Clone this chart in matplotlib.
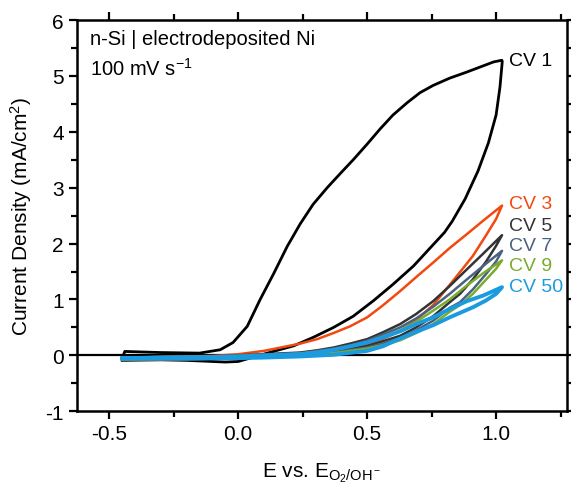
import matplotlib
matplotlib.use('Agg')
import matplotlib.pyplot as plt
from matplotlib.ticker import MultipleLocator

plt.rcParams['font.family'] = ['Liberation Sans', 'DejaVu Sans']
plt.rcParams['mathtext.fontset'] = 'custom'
plt.rcParams['mathtext.rm'] = 'Liberation Sans'
plt.rcParams['mathtext.it'] = 'Liberation Sans'

# CV 1 loop (forward then reverse)
cv1_e = [-0.45, -0.44, -0.3, -0.15, -0.07, -0.02, 0.035, 0.085, 0.136, 0.19, 0.24,
         0.29, 0.345, 0.395, 0.446, 0.50, 0.55, 0.60, 0.655, 0.705, 0.756, 0.82,
         0.887, 0.95, 0.99, 1.022,
         1.024, 1.015, 1.0, 0.97, 0.93, 0.88, 0.83, 0.80, 0.75, 0.68, 0.60, 0.525,
         0.446, 0.37, 0.29, 0.215, 0.136, 0.06, 0.0, -0.05, -0.1, -0.2, -0.3, -0.45]
cv1_j = [-0.05, 0.07, 0.05, 0.04, 0.1, 0.23, 0.52, 1.0, 1.45, 1.95, 2.35,
         2.7, 3.0, 3.25, 3.5, 3.78, 4.05, 4.3, 4.52, 4.7, 4.83, 4.96,
         5.07, 5.18, 5.25, 5.28,
         5.26, 4.8, 4.3, 3.8, 3.3, 2.8, 2.4, 2.2, 1.95, 1.6, 1.27, 0.98,
         0.7, 0.5, 0.32, 0.17, 0.07, -0.03, -0.11, -0.12, -0.11, -0.09, -0.08, -0.09]

# shared potential grid for the later cycles (forward, then reverse)
e_fwd = [-0.45, -0.3, -0.1, 0.0, 0.1, 0.24, 0.306, 0.37, 0.434, 0.50, 0.56, 0.628,
         0.69, 0.756, 0.82, 0.887, 0.95, 1.023]
e_rev = [1.0, 0.96, 0.91, 0.86, 0.82, 0.756, 0.69, 0.628, 0.56, 0.50, 0.37, 0.24,
         0.1, 0.0, -0.2, -0.45]

cv3_fwd = [-0.04, -0.03, -0.01, 0.02, 0.08, 0.21, 0.29, 0.40, 0.52, 0.68, 0.89, 1.15,
           1.40, 1.66, 1.92, 2.17, 2.41, 2.68]
cv3_rev = [2.44, 2.14, 1.78, 1.49, 1.26, 0.90, 0.63, 0.44, 0.29, 0.20, 0.08, 0.04,
           -0.02, -0.05, -0.07, -0.08]

cv5_fwd = [-0.04, -0.03, -0.02, 0.0, 0.02, 0.05, 0.09, 0.14, 0.21, 0.29, 0.41, 0.56,
           0.74, 0.97, 1.24, 1.54, 1.82, 2.15]
cv5_rev = [1.96, 1.67, 1.36, 1.10, 0.95, 0.70, 0.50, 0.35, 0.25, 0.17, 0.06, 0.0,
           -0.03, -0.05, -0.06, -0.07]

cv7_fwd = [-0.04, -0.03, -0.02, -0.01, 0.01, 0.04, 0.08, 0.12, 0.18, 0.26, 0.37, 0.50,
           0.66, 0.87, 1.10, 1.36, 1.60, 1.87]
cv7_rev = [1.68, 1.45, 1.18, 0.95, 0.85, 0.62, 0.45, 0.31, 0.21, 0.14, 0.05, 0.0,
           -0.03, -0.05, -0.06, -0.07]

cv9_fwd = [-0.04, -0.03, -0.02, -0.01, 0.0, 0.03, 0.06, 0.10, 0.16, 0.23, 0.33, 0.45,
           0.60, 0.80, 1.00, 1.25, 1.47, 1.70]
cv9_rev = [1.55, 1.35, 1.10, 0.90, 0.78, 0.56, 0.40, 0.27, 0.18, 0.12, 0.04, -0.01,
           -0.03, -0.05, -0.06, -0.07]

cv50_fwd = [-0.05, -0.04, -0.03, -0.02, 0.0, 0.02, 0.05, 0.10, 0.16, 0.23, 0.32, 0.43,
            0.56, 0.68, 0.83, 0.97, 1.07, 1.22]
cv50_rev = [1.10, 0.98, 0.86, 0.76, 0.68, 0.54, 0.42, 0.30, 0.16, 0.08, 0.01, -0.02,
            -0.04, -0.05, -0.06, -0.06]

labels = ['CV 1', 'CV 3', 'CV 5', 'CV 7', 'CV 9', 'CV 50']
label_y = [5.28, 2.71, 2.32, 1.96, 1.60, 1.24]
colors = ['#000000', '#f2490f', '#333333', '#4a6282', '#7aab2e', '#1a9be0']

fig = plt.figure(figsize=(5.71, 4.89), dpi=100)
ax = fig.add_axes([0.135, 0.157, 0.858, 0.800])

ax.axhline(0, color='black', lw=1.6, zorder=1)

loops = [(cv1_e, cv1_j),
         (e_fwd + e_rev, cv3_fwd + cv3_rev),
         (e_fwd + e_rev, cv5_fwd + cv5_rev),
         (e_fwd + e_rev, cv7_fwd + cv7_rev),
         (e_fwd + e_rev, cv9_fwd + cv9_rev),
         (e_fwd + e_rev, cv50_fwd + cv50_rev)]
widths = [2.0, 1.8, 1.8, 1.8, 1.8, 2.8]
for (e, j), c, w in zip(loops, colors, widths):
    ax.plot(e, j, color=c, lw=w, solid_joinstyle='round', zorder=2)

for lab, yy, c in zip(labels, label_y, colors):
    ax.text(1.05, yy, lab, color=c, fontsize=14, va='center', ha='left')

ax.text(0.027, 0.978, 'n-Si | electrodeposited Ni', transform=ax.transAxes,
        fontsize=14.5, va='top', ha='left')
ax.text(0.027, 0.905, r'100 mV s$^{-1}$', transform=ax.transAxes,
        fontsize=14.5, va='top', ha='left')

ax.set_xlim(-0.625, 1.275)
ax.set_ylim(-1, 6)
ax.xaxis.set_major_locator(MultipleLocator(0.5))
ax.xaxis.set_minor_locator(MultipleLocator(0.25))
ax.yaxis.set_major_locator(MultipleLocator(1))
ax.yaxis.set_minor_locator(MultipleLocator(0.5))
ax.xaxis.set_major_formatter(plt.FuncFormatter(lambda v, p: '%.1f' % v))
ax.yaxis.set_major_formatter(plt.FuncFormatter(lambda v, p: '%d' % round(v)))

for s in ax.spines.values():
    s.set_linewidth(1.8)
ax.tick_params(which='both', direction='out', top=True, right=True, width=1.6,
               labelsize=15)
ax.tick_params(which='major', length=6)
ax.tick_params(which='minor', length=4)

ax.set_xlabel(r'E vs. E$_{\mathregular{O_2/OH^-}}$', fontsize=15, labelpad=12)
ax.set_ylabel(r'Current Density (mA/cm$^2$)', fontsize=15, labelpad=8)

fig.savefig('out.png', dpi=100)
